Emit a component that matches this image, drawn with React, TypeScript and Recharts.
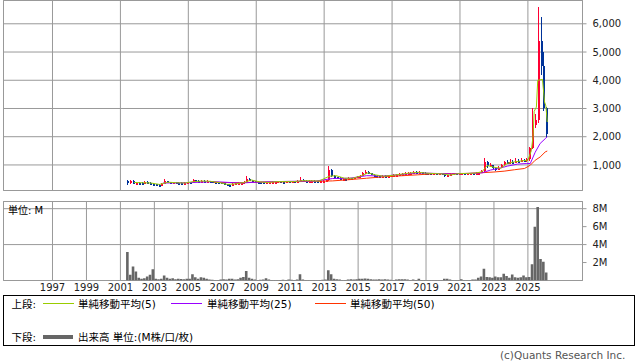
import { Bar, CartesianGrid, ComposedChart, Line, ReferenceArea, XAxis, YAxis } from "recharts";

const FONT = '"DejaVu Sans", "Noto Sans CJK JP", sans-serif';
const GRID = "#999";
const UP = "#ff0033";
const DOWN = "#003399";
const MA5_COLOR = "#99cc00";
const MA25_COLOR = "#9900ff";
const MA50_COLOR = "#ff3300";
const VOL_COLOR = "#666";

const X_MIN = 1994.114;
const X_MAX = 2028.216;
const P_MIN = 95;
const P_MAX = 6825;
const V_MAX = 8.8;

const yearTicks = [1997, 1999, 2001, 2003, 2005, 2007, 2009, 2011, 2013, 2015, 2017, 2019, 2021, 2023, 2025];
const priceTicks = [1000, 2000, 3000, 4000, 5000, 6000];
const volumeTicks = [2, 4, 6, 8];

// bimonthly periods, 2001-05 .. 2026-01
const periods: string[] = [];
for (let y = 2001, m = 5; y < 2026 || (y === 2026 && m <= 1); ) {
  periods.push(`${y}-${String(m).padStart(2, "0")}`);
  m += 2;
  if (m > 12) {
    m -= 12;
    y += 1;
  }
}

const opens = [
  420, 350, 430, 340,
  370, 360, 340, 400, 370, 330,
  320, 300, 290, 330, 420, 380,
  370, 380, 370, 360, 350, 370,
  380, 370, 470, 430, 420, 440,
  430, 430, 420, 400, 390, 380,
  350, 320, 300, 290, 330, 350,
  360, 370, 390, 520, 470, 420,
  400, 390, 380, 370, 380, 390,
  400, 410, 420, 410, 400, 420,
  410, 420, 400, 430, 480, 440,
  430, 430, 440, 430, 420, 430,
  440, 450, 820, 620, 560, 540,
  520, 520, 510, 530, 520, 560,
  600, 620, 700, 760, 720, 650,
  620, 600, 590, 610, 600, 620,
  640, 650, 660, 670, 690, 700,
  720, 730, 750, 720, 740, 720,
  710, 700, 690, 700, 690, 700,
  680, 620, 640, 680, 700, 690,
  700, 700, 690, 700, 710, 700,
  720, 720, 780, 1100, 950, 1000,
  880, 830, 900, 1000, 1100, 1080,
  1120, 1100, 1150, 1120, 1180, 1150,
  1200, 1600, 2400, 2600, 5400, 4500,
  3000,
];

const closes = [
  350, 430, 340, 370,
  360, 340, 400, 370, 330, 320,
  300, 290, 330, 420, 380, 370,
  380, 370, 360, 350, 370, 380,
  370, 470, 430, 420, 440, 430,
  430, 420, 400, 390, 380, 350,
  320, 300, 290, 330, 350, 360,
  370, 390, 520, 470, 420, 400,
  390, 380, 370, 380, 390, 400,
  410, 420, 410, 400, 420, 410,
  420, 400, 430, 480, 440, 430,
  430, 440, 430, 420, 430, 440,
  450, 820, 620, 560, 540, 520,
  520, 510, 530, 520, 560, 600,
  620, 700, 760, 720, 650, 620,
  600, 590, 610, 600, 620, 640,
  650, 660, 670, 690, 700, 720,
  730, 750, 720, 740, 720, 710,
  700, 690, 700, 690, 700, 680,
  620, 640, 680, 700, 690, 700,
  700, 690, 700, 710, 700, 720,
  720, 780, 1100, 950, 1000, 880,
  830, 900, 1000, 1100, 1080, 1120,
  1100, 1150, 1120, 1180, 1150, 1200,
  1600, 2400, 2600, 5400, 4500, 3000,
  2100,
];

const highs = [
  470, 480, 460, 400,
  400, 380, 440, 420, 380, 350,
  340, 320, 360, 500, 440, 400,
  410, 400, 390, 380, 400, 410,
  400, 520, 480, 450, 470, 460,
  450, 440, 430, 410, 400, 390,
  360, 330, 310, 350, 370, 380,
  390, 420, 610, 540, 480, 430,
  410, 400, 390, 400, 410, 420,
  430, 440, 430, 420, 440, 430,
  440, 430, 450, 565, 490, 450,
  450, 460, 450, 440, 450, 460,
  480, 960, 840, 640, 580, 560,
  550, 540, 560, 550, 590, 620,
  650, 740, 820, 780, 730, 670,
  630, 620, 640, 630, 650, 660,
  670, 690, 700, 720, 740, 750,
  760, 790, 770, 770, 750, 740,
  730, 720, 720, 710, 720, 710,
  690, 660, 700, 720, 710, 720,
  720, 710, 720, 730, 730, 740,
  750, 820, 1260, 1150, 1080, 1010,
  900, 950, 1050, 1150, 1180, 1200,
  1180, 1230, 1200, 1240, 1220, 1250,
  1650, 3000, 2800, 6600, 6250, 5000,
  3050,
];

const lows = [
  300, 320, 320, 300,
  330, 320, 330, 350, 310, 290,
  280, 270, 280, 320, 360, 350,
  350, 350, 340, 330, 340, 360,
  350, 360, 410, 400, 410, 410,
  410, 400, 380, 370, 360, 330,
  300, 280, 270, 280, 320, 340,
  350, 360, 380, 440, 400, 380,
  370, 360, 350, 360, 370, 380,
  390, 400, 390, 380, 390, 390,
  400, 380, 390, 420, 420, 410,
  410, 420, 410, 400, 410, 420,
  430, 440, 580, 530, 510, 500,
  500, 490, 500, 500, 510, 550,
  590, 610, 690, 690, 630, 600,
  580, 570, 580, 580, 590, 610,
  630, 640, 650, 660, 680, 690,
  700, 720, 700, 710, 700, 690,
  680, 670, 680, 670, 680, 660,
  560, 600, 630, 670, 670, 680,
  680, 670, 680, 690, 690, 690,
  700, 710, 760, 900, 920, 850,
  790, 820, 880, 980, 1040, 1050,
  1060, 1080, 1080, 1100, 1100, 1120,
  1150, 1550, 2300, 2500, 4200, 2900,
  2000,
];

// volume, millions
const volumes = [
  3.18, 0.64, 1.57, 1.0,
  0.3, 0.2, 0.25, 0.45, 0.64, 1.24,
  0.2, 0.15, 0.2, 0.56, 0.3, 0.2,
  0.25, 0.15, 0.2, 0.18, 0.15, 0.2,
  0.2, 0.7, 0.35, 0.2, 0.35, 0.3,
  0.2, 0.1, 0.08, 0.05, 0.05, 0.1,
  0.15, 0.1, 0.2, 0.2, 0.1, 0.15,
  0.3, 0.4, 1.05, 0.3, 0.2, 0.1,
  0.05, 0.08, 0.1, 0.25, 0.1, 0.05,
  0.05, 0.05, 0.05, 0.08, 0.05, 0.1,
  0.08, 0.05, 0.1, 0.7, 0.1, 0.05,
  0.05, 0.05, 0.05, 0.05, 0.05, 0.08,
  0.1, 1.15, 0.7, 0.2, 0.15, 0.1,
  0.05, 0.05, 0.1, 0.15, 0.1, 0.15,
  0.2, 0.2, 0.22, 0.2, 0.15, 0.1,
  0.1, 0.15, 0.1, 0.15, 0.1, 0.08,
  0.05, 0.1, 0.15, 0.15, 0.15, 0.1,
  0.05, 0.1, 0.05, 0.2, 0.05, 0.05,
  0.05, 0.05, 0.05, 0.05, 0.05, 0.05,
  0.2, 0.2, 0.1, 0.05, 0.05, 0.05,
  0.15, 0.05, 0.05, 0.05, 0.1, 0.1,
  0.3, 0.45, 1.31, 0.4, 0.35, 0.3,
  0.45, 0.35, 0.35, 0.75, 0.5, 0.3,
  0.67, 0.35, 0.3, 0.35, 0.56, 0.35,
  0.4, 1.8, 6.0, 8.2, 2.4, 2.1,
  0.9,
];

// moving averages: [decimal year, value]
const ma5: [number, number][] = [
  [2001.8, 380], [2002.3, 370], [2002.8, 360], [2003.3, 310], [2003.8, 390], [2004.3, 370],
  [2004.8, 360], [2005.3, 410], [2005.8, 430], [2006.3, 420], [2006.8, 380], [2007.3, 310],
  [2007.8, 330], [2008.3, 380], [2008.7, 470], [2009.2, 400], [2009.7, 380], [2010.2, 410],
  [2010.7, 410], [2011.2, 410], [2011.7, 440], [2012.2, 440], [2012.7, 430], [2013.3, 600],
  [2013.7, 620], [2014.2, 530], [2014.7, 530], [2015.2, 620], [2015.6, 720], [2016.0, 650],
  [2016.5, 600], [2017.0, 630], [2017.5, 670], [2018.0, 710], [2018.5, 740], [2019.0, 710],
  [2019.5, 695], [2020.0, 680], [2020.4, 640], [2020.9, 690], [2021.4, 700], [2021.9, 710],
  [2022.3, 760], [2022.6, 980], [2023.0, 920], [2023.4, 880], [2023.8, 1060], [2024.2, 1110],
  [2024.6, 1140], [2025.0, 1170], [2025.2, 1500], [2025.3, 2000], [2025.37, 2900], [2025.5, 3050],
  [2025.58, 4000], [2025.86, 4030], [2025.98, 3230], [2026.06, 3090], [2026.14, 2520],
];

const ma25: [number, number][] = [
  [2003.5, 360], [2005.0, 370], [2006.5, 410], [2008.0, 360], [2009.5, 400], [2011.0, 420],
  [2012.5, 430], [2013.5, 520], [2014.5, 530], [2015.5, 620], [2016.5, 610], [2017.5, 660],
  [2018.5, 720], [2019.5, 700], [2020.5, 680], [2021.5, 700], [2022.3, 720], [2022.8, 820],
  [2023.3, 880], [2023.8, 960], [2024.4, 1030], [2024.9, 1050], [2025.14, 1050], [2025.43, 1450],
  [2025.72, 1760], [2026.02, 1930], [2026.14, 2000],
];

const ma50: [number, number][] = [
  [2006.5, 380], [2008.0, 375], [2009.5, 395], [2011.0, 405], [2012.5, 420], [2013.5, 435],
  [2014.5, 480], [2015.5, 530], [2016.5, 580], [2017.5, 615], [2018.5, 650], [2019.5, 690],
  [2020.5, 695], [2021.5, 700], [2022.3, 725], [2023.0, 750], [2023.6, 780], [2024.2, 830],
  [2024.8, 875], [2025.14, 990], [2025.43, 1166], [2025.72, 1282], [2026.02, 1460], [2026.14, 1494],
];

const toYear = (p: string) => {
  const [y, m] = p.split("-").map(Number);
  return y + m / 12;
};

const candles = periods.map((p, i) => ({
  t: toYear(p),
  hl: [lows[i], highs[i]],
  open: opens[i],
  close: closes[i],
  vol: volumes[i],
}));

const toLine = (pts: [number, number][]) => pts.map(([t, v]) => ({ t, v }));

function Candle(props: any) {
  const { x, y, width, height, payload } = props;
  if (!payload) return null;
  const [low, high] = payload.hl;
  const top = Math.min(y, y + height);
  const h = Math.abs(height);
  const color = payload.close >= payload.open ? UP : DOWN;
  const k = high > low ? h / (high - low) : 0;
  const yOpen = top + (high - payload.open) * k;
  const yClose = top + (high - payload.close) * k;
  const bodyTop = Math.min(yOpen, yClose);
  const bodyH = Math.max(2, Math.abs(yOpen - yClose));
  const cx = Math.round(x + width / 2) + 0.5;
  return (
    <g shapeRendering="crispEdges">
      <line x1={cx} x2={cx} y1={top} y2={top + Math.max(h, 1)} stroke={color} strokeWidth={1} />
      <rect x={Math.round(x)} y={bodyTop} width={Math.max(2, Math.round(width))} height={bodyH} fill={color} />
    </g>
  );
}

const tickStyle = { fontSize: 10, fill: "#222", fontFamily: FONT };

export default function App() {
  return (
    <div style={{ position: "absolute", left: 0, top: 0, width: 638, height: 362, background: "#fff", fontFamily: FONT }}>
      <div style={{ position: "absolute", left: 0, top: 0 }}>
        <ComposedChart width={638} height={191} data={candles} margin={{ top: 0.5, right: 0, bottom: 0.5, left: 3.5 }}>
          <CartesianGrid stroke={GRID} />
          <XAxis type="number" dataKey="t" domain={[X_MIN, X_MAX]} ticks={yearTicks} allowDataOverflow hide />
          <YAxis
            orientation="right"
            width={55.5}
            domain={[P_MIN, P_MAX]}
            ticks={priceTicks}
            allowDataOverflow
            axisLine={false}
            tickLine={{ stroke: GRID }}
            tickSize={4}
            tickMargin={6}
            tick={tickStyle}
            tickFormatter={(v) => Number(v).toLocaleString("en-US")}
          />
          <ReferenceArea x1={X_MIN} x2={X_MAX} y1={P_MIN} y2={P_MAX} fill="none" stroke={GRID} ifOverflow="visible" />
          <Bar dataKey="hl" barSize={3} shape={Candle} isAnimationActive={false} />
          <Line data={toLine(ma50)} dataKey="v" stroke={MA50_COLOR} strokeWidth={1} dot={false} isAnimationActive={false} />
          <Line data={toLine(ma25)} dataKey="v" stroke={MA25_COLOR} strokeWidth={1} dot={false} isAnimationActive={false} />
          <Line data={toLine(ma5)} dataKey="v" stroke={MA5_COLOR} strokeWidth={1} dot={false} isAnimationActive={false} />
        </ComposedChart>
      </div>
      <div style={{ position: "absolute", left: 0, top: 195 }}>
        <ComposedChart width={638} height={100} data={candles} margin={{ top: 6.5, right: 0, bottom: 0, left: 3.5 }}>
          <CartesianGrid stroke={GRID} />
          <XAxis
            type="number"
            dataKey="t"
            domain={[X_MIN, X_MAX]}
            ticks={yearTicks}
            allowDataOverflow
            height={14.5}
            axisLine={false}
            tickLine={false}
            tickSize={0}
            tickMargin={3}
            tick={tickStyle}
            interval={0}
          />
          <YAxis
            orientation="right"
            width={55.5}
            domain={[0, V_MAX]}
            ticks={volumeTicks}
            allowDataOverflow
            axisLine={false}
            tickLine={{ stroke: GRID }}
            tickSize={4}
            tickMargin={6}
            tick={tickStyle}
            tickFormatter={(v) => `${v}M`}
          />
          <ReferenceArea x1={X_MIN} x2={X_MAX} y1={0} y2={V_MAX} fill="none" stroke={GRID} ifOverflow="visible" />
          <Bar dataKey="vol" barSize={2.6} fill={VOL_COLOR} isAnimationActive={false} />
        </ComposedChart>
      </div>
      <svg width={638} height={362} style={{ position: "absolute", left: 0, top: 0, pointerEvents: "none" }} fontFamily={FONT}>
        <text x={8} y={210} fontSize={10} fill="#000" dominantBaseline="central">単位: M</text>
        <rect x={3.5} y={295.5} width={631} height={50} fill="none" stroke="#000" />
        <g fontSize={10.5} fill="#000" dominantBaseline="central">
          <text x={11.5} y={303.5}>上段:</text>
          <line x1={43} x2={74} y1={303.5} y2={303.5} stroke={MA5_COLOR} />
          <text x={78} y={303.5}>単純移動平均(5)</text>
          <line x1={171} x2={202} y1={303.5} y2={303.5} stroke={MA25_COLOR} />
          <text x={207} y={303.5}>単純移動平均(25)</text>
          <line x1={315} x2={346} y1={303.5} y2={303.5} stroke={MA50_COLOR} />
          <text x={350} y={303.5}>単純移動平均(50)</text>
          <text x={11.5} y={337}>下段:</text>
          <line x1={43} x2={73} y1={337} y2={337} stroke={VOL_COLOR} strokeWidth={4} />
          <text x={78} y={337}>出来高 単位:(M株/口/枚)</text>
        </g>
        <text x={500} y={355} fontSize={10.5} fill="#555" dominantBaseline="central">(c)Quants Research Inc.</text>
      </svg>
    </div>
  );
}
